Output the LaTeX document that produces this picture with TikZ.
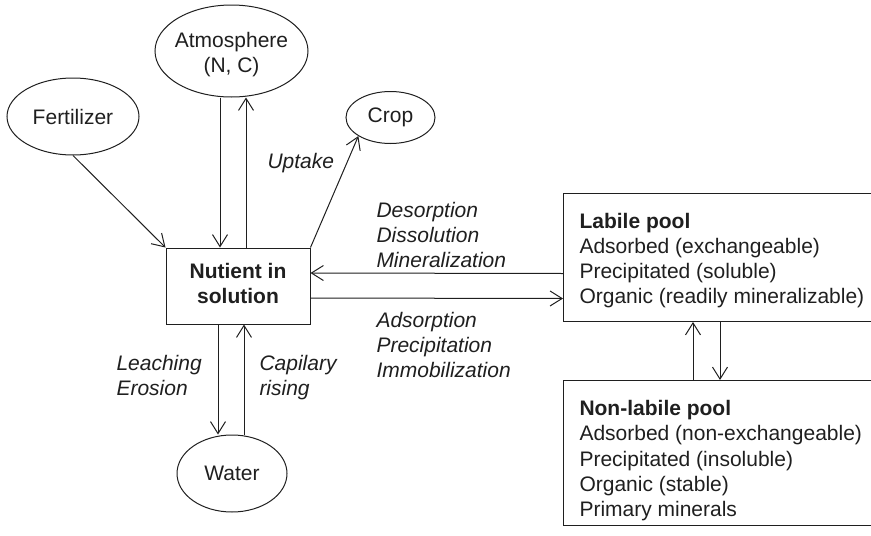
\documentclass[tikz,border=0pt]{standalone}
\usepackage{fontspec}
\setmainfont{Liberation Sans}
\usetikzlibrary{shapes.geometric,arrows.meta}
\definecolor{ink}{gray}{0.12}
\tikzset{
  base/.style={font=\fontsize{21}{25.3}\selectfont, inner sep=0pt, text=ink},
  oval/.style={base, draw=ink, ellipse},
  box/.style={base, draw=ink, rectangle},
  lbl/.style={base, anchor=north west, align=left},
  arr/.style={draw=ink, -{Straight Barb[length=12pt,width=15pt]}},
}
\begin{document}
\begin{tikzpicture}[x=1pt, y=-1pt, line width=1pt]
\useasboundingbox (0,0) rectangle (871,536);

% ovals
\node[oval, minimum width=132pt, minimum height=77pt] (fert) at (73,116.5) {Fertilizer};
\node[oval, minimum width=153pt, minimum height=92pt, align=center] (atm) at (231.5,51)
  {\makebox[0pt]{\rule{0pt}{22pt}Atmosphere}\\\makebox[0pt]{(N, C)}};
\node[oval, minimum width=89pt, minimum height=52pt] (crop) at (390.5,117.5) {Crop};
\node[oval, minimum width=110pt, minimum height=77pt] (water) at (232,473.5) {Water};

% central box
\node[box, minimum width=144pt, minimum height=76pt, align=center, font=\fontsize{21}{25.3}\selectfont\bfseries] (nut) at (238,286)
  {Nutient in\\solution\rule[-5pt]{0pt}{5pt}};

% pools (cut off at the right edge)
\begin{scope}
\clip (0,0) rectangle (871,536);
\node[box, anchor=north west, minimum width=330pt, minimum height=128.5pt] (labile) at (563,192.5) {};
\node[box, anchor=north west, minimum width=330pt, minimum height=145pt] (nonlab) at (563,380) {};
\end{scope}
\node[lbl] (labtxt) at (579,209.8)
  {\strut\textbf{Labile pool}\\\strut Adsorbed (exchangeable)\\\strut Precipitated (soluble)\\\strut Organic (readily mineralizable)};
\node[lbl] (nontxt) at (579,397.3)
  {\strut\textbf{Non-labile pool}\\\strut Adsorbed (non-exchangeable)\\\strut Precipitated (insoluble)\\\strut Organic (stable)\\\strut Primary minerals};

% labels
\node[lbl, font=\fontsize{21}{25.3}\selectfont\itshape] (upt) at (267,149.8) {\strut Uptake};
\node[lbl, font=\fontsize{21}{25.3}\selectfont\itshape] (des) at (376,198.8)
  {\strut Desorption\\\strut Dissolution\\\strut Mineralization};
\node[lbl, font=\fontsize{21}{25.3}\selectfont\itshape] (ads) at (376,308.8)
  {\strut Adsorption\\\strut Precipitation\\\strut Immobilization};
\node[lbl, font=\fontsize{21}{25.3}\selectfont\itshape] (lea) at (116,351.8)
  {\strut Leaching\\\strut Erosion};
\node[lbl, font=\fontsize{21}{25.3}\selectfont\itshape] (cap) at (259,351.8)
  {\strut Capilary\\\strut rising};

% connectors
\draw[arr] (fert.south) -- (nut.north west);
\draw[arr] ([xshift=-11.5pt]atm.south) -- ([xshift=-18pt]nut.north);
\draw[arr] ([xshift=8pt]nut.north) -- ([xshift=14.5pt]atm.south);
\draw[arr] (nut.north east) -- (crop.210);
\draw[arr] ([yshift=-16.25pt]labile.west) -- ([yshift=13pt]nut.east);
\draw[arr] ([yshift=-12pt]nut.east) -- ([yshift=-41.25pt]labile.west);
\draw[arr] ([xshift=130pt]nonlab.north west) -- ([xshift=130pt]labile.south west);
\draw[arr] ([xshift=157pt]labile.south west) -- ([xshift=157pt]nonlab.north west);
\draw[arr] ([xshift=-20pt]nut.south) -- ([xshift=-14pt]water.north);
\draw[arr] ([xshift=12pt]water.north) -- ([xshift=6pt]nut.south);
\end{tikzpicture}
\end{document}
